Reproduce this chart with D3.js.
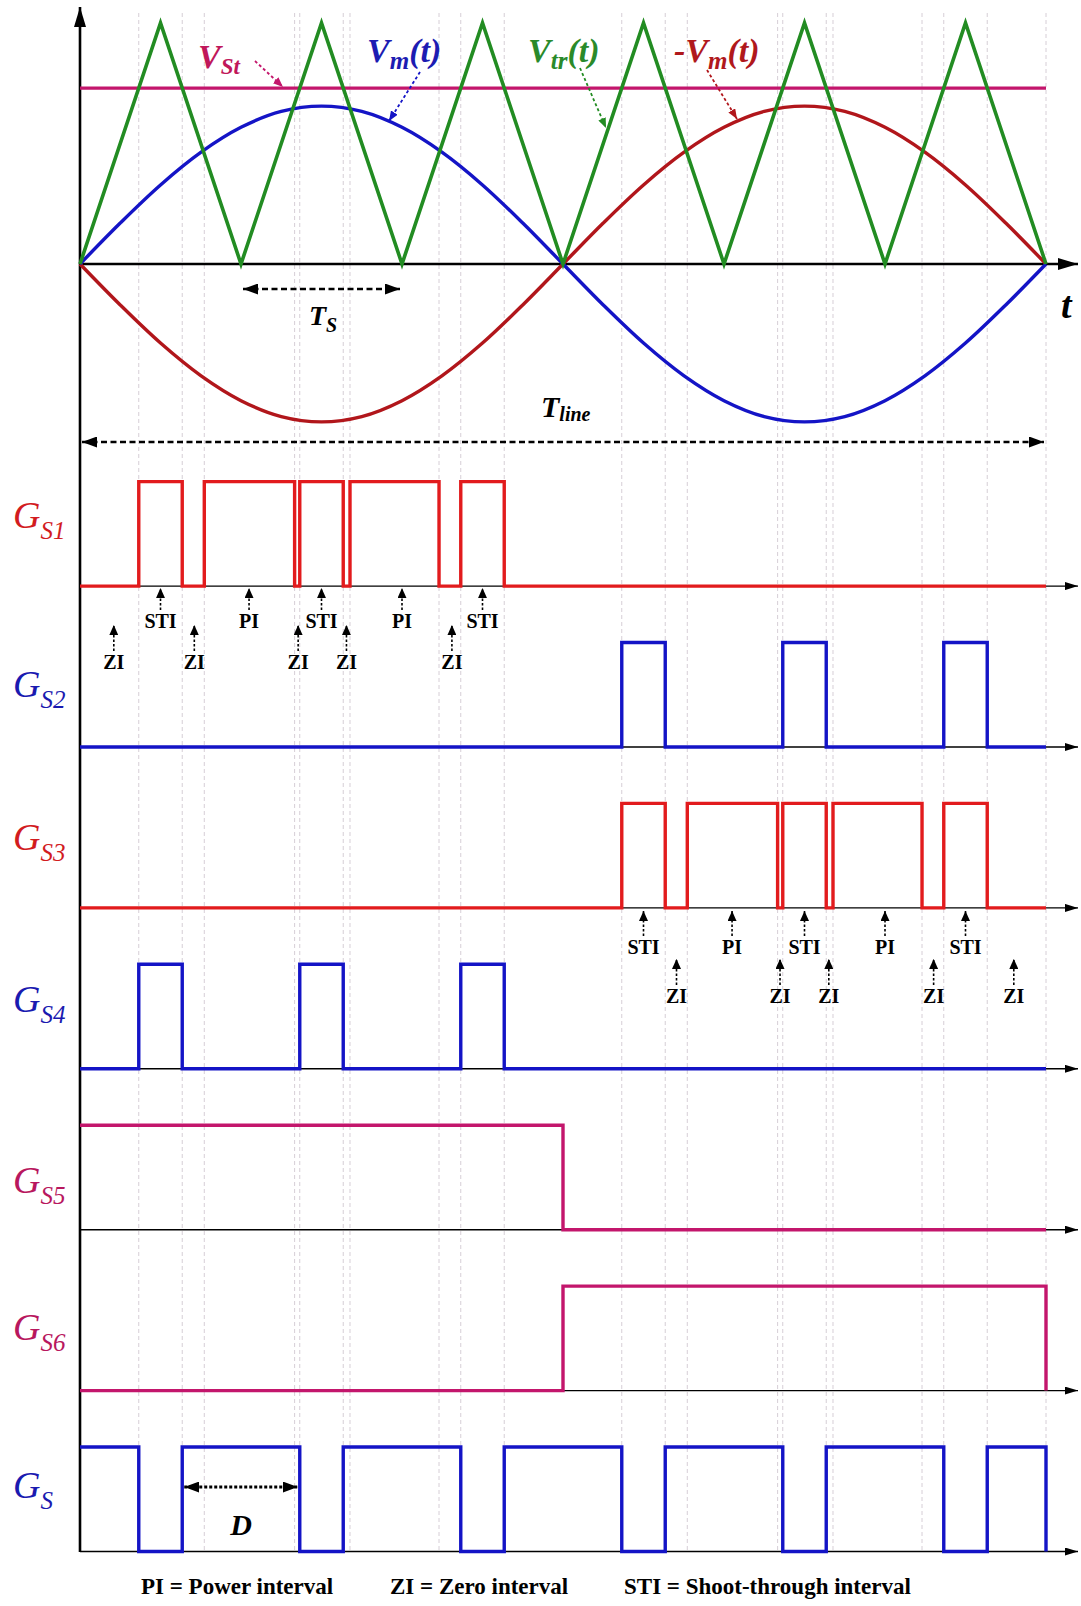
<!DOCTYPE html>
<html>
<head>
<meta charset="utf-8">
<script src="https://cdn.jsdelivr.net/npm/d3@7"></script>
<style>
  body { margin: 0; background: #fff; }
  svg { display: block; }
</style>
</head>
<body>
<svg id="chart" width="1081" height="1606"></svg>
<script>
// ---- data (time in switching periods Ts; one line period = 6 Ts) ----
const lineSpan = [0, 6];

// triangular carrier vertices [t, level]
const carrier = [[0,0],[0.5,1],[1,0],[1.5,1],[2,0],[2.5,1],[3,0],[3.5,1],[4,0],[4.5,1],[5,0],[5.5,1],[6,0]];

// shoot-through reference level
const shootThroughRef = 0.73;

// modulating wave Vm(t), sampled every quarter switching period
const vmTimes = [0,0.25,0.5,0.75,1,1.25,1.5,1.75,2,2.25,2.5,2.75,3,3.25,3.5,3.75,4,4.25,4.5,4.75,5,5.25,5.5,5.75,6];
const vmValues = [0,0.170,0.328,0.463,0.567,0.633,0.655,0.633,0.567,0.463,0.328,0.170,0,
                  -0.170,-0.328,-0.463,-0.567,-0.633,-0.655,-0.633,-0.567,-0.463,-0.328,-0.170,0];

// gate signals: intervals where the gate is high
const gateNames = ["S1", "S2", "S3", "S4", "S5", "S6", "S"];
const gateS1 = [[0.365,0.635],[0.772,1.333],[1.365,1.635],[1.677,2.23],[2.365,2.635]];
const gateS2 = [[3.365,3.635],[4.365,4.635],[5.365,5.635]];
const gateS3 = [[3.365,3.635],[3.772,4.333],[4.365,4.635],[4.677,5.23],[5.365,5.635]];
const gateS4 = [[0.365,0.635],[1.365,1.635],[2.365,2.635]];
const gateS5 = [[0,3]];
const gateS6 = [[3,6]];
const gateS  = [[0,0.365],[0.635,1.365],[1.635,2.365],[2.635,3.365],[3.635,4.365],[4.635,5.365],[5.635,6]];
const gates = [gateS1, gateS2, gateS3, gateS4, gateS5, gateS6, gateS];

// interval tags under G_S1 and G_S3: [tag, t, row]
const tagsS1 = [["STI",0.5,0],["PI",1.05,0],["STI",1.5,0],["PI",2.0,0],["STI",2.5,0],
                ["ZI",0.21,1],["ZI",0.71,1],["ZI",1.355,1],["ZI",1.655,1],["ZI",2.31,1]];
const tagsS3 = [["STI",3.5,0],["PI",4.05,0],["STI",4.5,0],["PI",5.0,0],["STI",5.5,0],
                ["ZI",3.705,1],["ZI",4.348,1],["ZI",4.651,1],["ZI",5.302,1],["ZI",5.8,1]];

// legend entries
const legendItems = ["PI = Power interval", "ZI = Zero interval", "STI = Shoot-through interval"];

// ---- styles ----
const C = {
  red: "#e21b1d", blue: "#1414c6", magenta: "#c3166c", green: "#228c22",
  darkRed: "#b1161b", guide: "#d6ced6", black: "#000"
};
const gateColors = [C.red, C.blue, C.red, C.blue, C.magenta, C.magenta, C.blue];
const labelColors = ["#d21c1f", "#1a1ab0", "#d21c1f", "#1a1ab0", "#b8175e", "#b8175e", "#1a1ab0"];
const serif = "'Liberation Serif', 'Times New Roman', serif";

const svg = d3.select("#chart");
const x = d3.scaleLinear().domain(lineSpan).range([80, 1046]);
const yTop = d3.scaleLinear().domain([0, 1]).range([264, 23]);

// per-channel scales: 0 -> low rail, 1 -> high rail
const chanHigh = d => 481.6 + d * 160.9;
const chanScale = gates.map((g, i) => d3.scaleLinear().domain([0, 1]).range([chanHigh(i) + 104.5, chanHigh(i)]));

// ---- markers ----
const defs = svg.append("defs");
function marker(id, len, wid, color) {
  defs.append("marker")
    .attr("id", id).attr("markerUnits", "userSpaceOnUse")
    .attr("viewBox", `0 0 ${len} ${wid}`)
    .attr("refX", len).attr("refY", wid / 2)
    .attr("markerWidth", len).attr("markerHeight", wid)
    .attr("orient", "auto-start-reverse")
    .append("path").attr("d", `M0,0L${len},${wid / 2}L0,${wid}Z`).attr("fill", color);
}
marker("axisHead", 20, 12, C.black);
marker("railHead", 13, 8, C.black);
marker("dimHead", 15, 11, C.black);
marker("tagHead", 10, 9, C.black);
marker("hMag", 10, 8, C.magenta);
marker("hBlue", 10, 8, C.blue);
marker("hGreen", 10, 8, C.green);
marker("hRed", 10, 8, C.darkRed);

// ---- guide lines at switching instants ----
const guideTimes = Array.from(new Set([...gateS1.flat(), ...gateS3.flat(), 6])).sort((a, b) => a - b);
svg.append("g").selectAll("line").data(guideTimes).join("line")
  .attr("x1", d => x(d)).attr("x2", d => x(d))
  .attr("y1", 13).attr("y2", 1552)
  .attr("stroke", C.guide).attr("stroke-width", 1).attr("stroke-dasharray", "4,3");

// ---- axes ----
svg.append("line").attr("x1", x(0)).attr("x2", x(0)).attr("y1", 1552).attr("y2", 7)
  .attr("stroke", C.black).attr("stroke-width", 2.6).attr("marker-end", "url(#axisHead)");
svg.append("line").attr("x1", x(0)).attr("x2", 1078).attr("y1", yTop(0)).attr("y2", yTop(0))
  .attr("stroke", C.black).attr("stroke-width", 2.6).attr("marker-end", "url(#axisHead)");

// channel rails
svg.append("g").selectAll("line").data(chanScale).join("line")
  .attr("x1", x(0)).attr("x2", 1078)
  .attr("y1", s => s(0)).attr("y2", s => s(0))
  .attr("stroke", C.black).attr("stroke-width", 1.4).attr("marker-end", "url(#railHead)");

// ---- top panel: carrier, reference, modulating waves ----
const topLine = d3.line().x(d => x(d[0])).y(d => yTop(d[1]));
svg.append("line").attr("x1", x(0)).attr("x2", x(6))
  .attr("y1", yTop(shootThroughRef)).attr("y2", yTop(shootThroughRef))
  .attr("stroke", C.magenta).attr("stroke-width", 3.2);

const vmPts = vmTimes.map((t, i) => [t, vmValues[i]]);
const smooth = d3.line().x(d => x(d[0])).y(d => yTop(d[1])).curve(d3.curveCatmullRom.alpha(0.5));
svg.append("path").attr("d", smooth(vmPts.map(d => [d[0], -d[1]])))
  .attr("fill", "none").attr("stroke", C.darkRed).attr("stroke-width", 3.4);
svg.append("path").attr("d", smooth(vmPts))
  .attr("fill", "none").attr("stroke", C.blue).attr("stroke-width", 3.4);
svg.append("path").attr("d", topLine(carrier))
  .attr("fill", "none").attr("stroke", C.green).attr("stroke-width", 3.6).attr("stroke-linejoin", "miter");

// ---- gate waveforms ----
function stepPoints(intervals) {
  const pts = [[lineSpan[0], intervals.length && intervals[0][0] === lineSpan[0] ? 1 : 0]];
  intervals.forEach(([a, b]) => {
    if (a > lineSpan[0]) { pts.push([a, 0], [a, 1]); }
    pts.push([b, 1], [b, 0]);
  });
  pts.push([lineSpan[1], 0]);
  return pts;
}
gates.forEach((g, i) => {
  const s = chanScale[i];
  const ln = d3.line().x(d => x(d[0])).y(d => s(d[1]));
  svg.append("path").attr("d", ln(stepPoints(g)))
    .attr("fill", "none").attr("stroke", gateColors[i]).attr("stroke-width", 3.4)
    .attr("stroke-linejoin", "miter");
});

// ---- text helpers ----
function richText(xp, yp, parts, color, anchor) {
  const t = svg.append("text").attr("x", xp).attr("y", yp)
    .attr("fill", color).attr("font-family", serif).attr("text-anchor", anchor || "start");
  parts.forEach(p => {
    t.append("tspan").text(p.s)
      .attr("font-size", p.size).attr("font-style", "italic")
      .attr("font-weight", p.bold === false ? "normal" : "bold")
      .attr("dy", p.dy || 0);
  });
  return t;
}

// gate labels
const gateLabelBase = [528, 697, 850, 1012, 1193, 1340, 1498];
gateNames.forEach((n, i) => {
  richText(13, gateLabelBase[i], [
    { s: "G", size: 38, bold: false },
    { s: n, size: 25, dy: 11, bold: false }
  ], labelColors[i]);
});

// waveform labels with pointer arrows
richText(198, 68, [{ s: "V", size: 34 }, { s: "St", size: 23, dy: 6 }], "#c0175a");
richText(367, 62, [{ s: "V", size: 34 }, { s: "m", size: 25, dy: 7 }, { s: "(t)", size: 34, dy: -7 }], "#1c1cb2");
richText(528, 62, [{ s: "V", size: 34 }, { s: "tr", size: 25, dy: 7 }, { s: "(t)", size: 34, dy: -7 }], "#2a8a2a");
richText(674, 62, [{ s: "-V", size: 34 }, { s: "m", size: 25, dy: 7 }, { s: "(t)", size: 34, dy: -7 }], "#b0181c");

function pointer(x1, y1, x2, y2, color, head) {
  svg.append("line").attr("x1", x1).attr("y1", y1).attr("x2", x2).attr("y2", y2)
    .attr("stroke", color).attr("stroke-width", 1.8).attr("stroke-dasharray", "3,2.5")
    .attr("marker-end", `url(#${head})`);
}
pointer(255, 61, 283, 87, C.magenta, "hMag");
pointer(420, 72, 389, 121, C.blue, "hBlue");
pointer(580, 68, 606, 128, C.green, "hGreen");
pointer(707, 70, 737, 119, C.darkRed, "hRed");

// dimension arrows
function dimension(t1, t2, yp, dash, w) {
  svg.append("line").attr("x1", x(t1) + 2).attr("x2", x(t2) - 2).attr("y1", yp).attr("y2", yp)
    .attr("stroke", C.black).attr("stroke-width", w || 2.6).attr("stroke-dasharray", dash)
    .attr("marker-start", "url(#dimHead)").attr("marker-end", "url(#dimHead)");
}
dimension(1, 2, 289, "6,3.5");
richText(309, 325, [{ s: "T", size: 28 }, { s: "S", size: 20, dy: 7 }], C.black);
dimension(0, 6, 442, "6,3.5");
richText(541, 417, [{ s: "T", size: 30 }, { s: "line", size: 20, dy: 4 }], C.black);
richText(1061, 318, [{ s: "t", size: 38 }], C.black);
dimension(gateS[1][0], gateS[1][1], 1487, "3,2", 3);
richText(241, 1535, [{ s: "D", size: 30 }], C.black, "middle");

// interval tags
function drawTags(tags, chan, off) {
  const base = chanScale[chan](0);
  const g = svg.append("g");
  tags.forEach(([tag, t, row]) => {
    const tip = base + off[row][0];
    const txt = base + off[row][1];
    g.append("line").attr("x1", x(t)).attr("x2", x(t))
      .attr("y1", txt - 18).attr("y2", tip)
      .attr("stroke", C.black).attr("stroke-width", 1.6).attr("stroke-dasharray", "2.5,2")
      .attr("marker-end", "url(#tagHead)");
    g.append("text").attr("x", x(t)).attr("y", txt).attr("text-anchor", "middle")
      .attr("font-family", serif).attr("font-weight", "bold").attr("font-size", 20)
      .attr("fill", C.black).text(tag);
  });
}
drawTags(tagsS1, 0, [[2, 42], [39, 83]]);
drawTags(tagsS3, 2, [[3, 46], [51, 95]]);

// legend
const legendX = [141, 390, 624];
svg.append("g").selectAll("text").data(legendItems).join("text")
  .attr("x", (d, i) => legendX[i]).attr("y", 1594)
  .attr("font-family", serif).attr("font-weight", "bold").attr("font-size", 23)
  .attr("fill", C.black).text(d => d);
</script>
</body>
</html>
